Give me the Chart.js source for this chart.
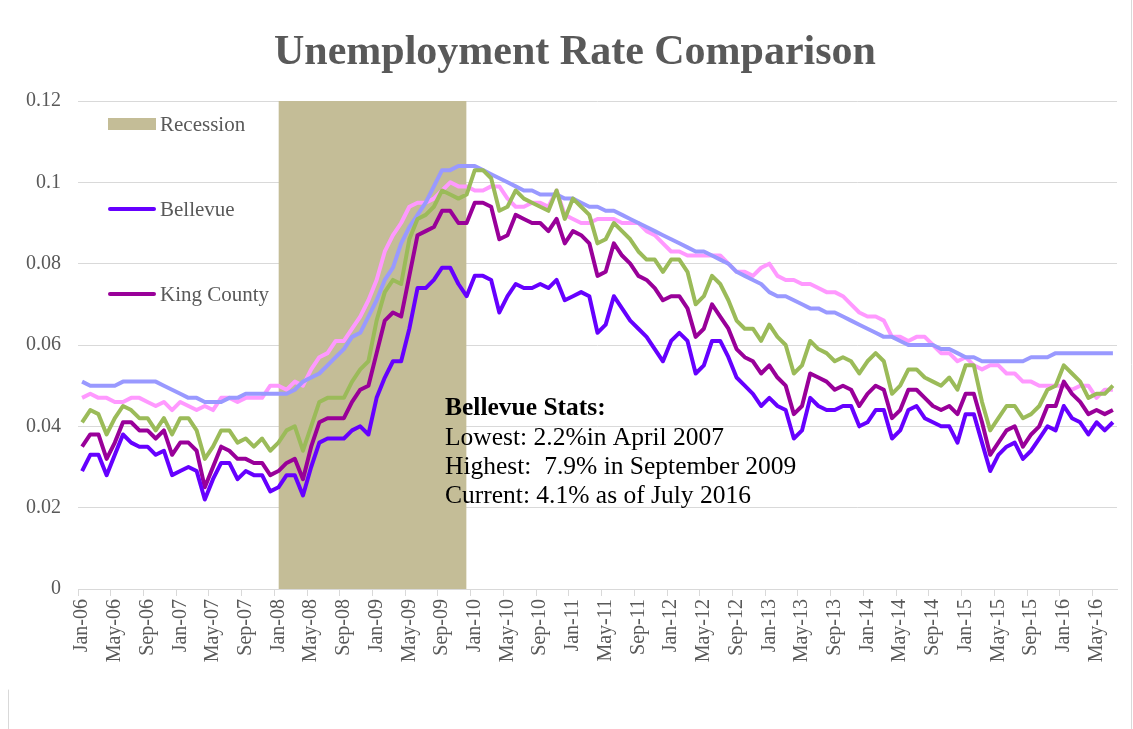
<!DOCTYPE html>
<html>
<head>
<meta charset="utf-8">
<title>Unemployment Rate Comparison</title>
<script src="https://cdn.jsdelivr.net/npm/chart.js@4.4.0/dist/chart.umd.min.js"></script>
<style>
    html, body { margin: 0; padding: 0; background: #ffffff; }
    #wrap { position: relative; width: 1133px; height: 729px; }
</style>
</head>
<body>
<div id="wrap"><canvas id="unemploymentChart" width="1133" height="729"></canvas></div>
<script>
// Monthly categories, Jan-06 .. Jul-16
const monthNames = ['Jan', 'Feb', 'Mar', 'Apr', 'May', 'Jun', 'Jul', 'Aug', 'Sep', 'Oct', 'Nov', 'Dec'];
const firstYear = 2006;
const monthCount = 127;

// Y axis ticks
const yTicks = [0, 0.02, 0.04, 0.06, 0.08, 0.1, 0.12];

// Recession band (first and last month covered)
const recessionStart = 'Jan-08';
const recessionEnd = 'Dec-09';
const recessionLevel = 0.12;

// Series values
const bellevue = [
    0.029, 0.033, 0.033, 0.028, 0.033, 0.038, 0.036, 0.035, 0.035, 0.033, 0.034, 0.028,
    0.029, 0.030, 0.029, 0.022, 0.027, 0.031, 0.031, 0.027, 0.029, 0.028, 0.028, 0.024,
    0.025, 0.028, 0.028, 0.023, 0.030, 0.036, 0.037, 0.037, 0.037, 0.039, 0.040, 0.038,
    0.047, 0.052, 0.056, 0.056, 0.064, 0.074, 0.074, 0.076, 0.079, 0.079, 0.075, 0.072,
    0.077, 0.077, 0.076, 0.068, 0.072, 0.075, 0.074, 0.074, 0.075, 0.074, 0.076, 0.071,
    0.072, 0.073, 0.072, 0.063, 0.065, 0.072, 0.069, 0.066, 0.064, 0.062, 0.059, 0.056,
    0.061, 0.063, 0.061, 0.053, 0.055, 0.061, 0.061, 0.057, 0.052, 0.050, 0.048, 0.045,
    0.047, 0.045, 0.044, 0.037, 0.039, 0.047, 0.045, 0.044, 0.044, 0.045, 0.045, 0.040,
    0.041, 0.044, 0.044, 0.037, 0.039, 0.044, 0.045, 0.042, 0.041, 0.040, 0.040, 0.036,
    0.043, 0.043, 0.036, 0.029, 0.033, 0.035, 0.036, 0.032, 0.034, 0.037, 0.040, 0.039,
    0.045, 0.042, 0.041, 0.038, 0.041, 0.039, 0.041
];

const kingCounty = [
    0.035, 0.038, 0.038, 0.032, 0.036, 0.041, 0.041, 0.039, 0.039, 0.037, 0.039, 0.033,
    0.036, 0.036, 0.034, 0.025, 0.030, 0.035, 0.034, 0.032, 0.032, 0.031, 0.031, 0.028,
    0.029, 0.031, 0.032, 0.027, 0.035, 0.041, 0.042, 0.042, 0.042, 0.046, 0.049, 0.050,
    0.058, 0.066, 0.068, 0.067, 0.077, 0.087, 0.088, 0.089, 0.093, 0.093, 0.090, 0.090,
    0.095, 0.095, 0.094, 0.086, 0.087, 0.092, 0.091, 0.090, 0.090, 0.088, 0.091, 0.085,
    0.088, 0.087, 0.085, 0.077, 0.078, 0.085, 0.082, 0.080, 0.077, 0.076, 0.074, 0.071,
    0.072, 0.072, 0.069, 0.062, 0.064, 0.070, 0.067, 0.064, 0.059, 0.057, 0.056, 0.053,
    0.055, 0.052, 0.050, 0.043, 0.045, 0.053, 0.052, 0.051, 0.049, 0.050, 0.049, 0.045,
    0.048, 0.050, 0.049, 0.042, 0.044, 0.049, 0.049, 0.047, 0.045, 0.044, 0.045, 0.043,
    0.048, 0.048, 0.041, 0.033, 0.036, 0.039, 0.040, 0.035, 0.038, 0.040, 0.045, 0.045,
    0.051, 0.048, 0.046, 0.043, 0.044, 0.043, 0.044
];

const washington = [
    0.041, 0.044, 0.043, 0.038, 0.042, 0.045, 0.044, 0.042, 0.042, 0.039, 0.042, 0.038,
    0.042, 0.042, 0.039, 0.032, 0.035, 0.039, 0.039, 0.036, 0.037, 0.035, 0.037, 0.034,
    0.036, 0.039, 0.040, 0.034, 0.040, 0.046, 0.047, 0.047, 0.047, 0.051, 0.054, 0.056,
    0.066, 0.073, 0.076, 0.075, 0.086, 0.091, 0.092, 0.094, 0.098, 0.097, 0.096, 0.097,
    0.103, 0.103, 0.101, 0.093, 0.094, 0.098, 0.096, 0.095, 0.094, 0.093, 0.098, 0.091,
    0.096, 0.094, 0.092, 0.085, 0.086, 0.090, 0.088, 0.086, 0.083, 0.081, 0.081, 0.078,
    0.081, 0.081, 0.078, 0.070, 0.072, 0.077, 0.075, 0.071, 0.066, 0.064, 0.064, 0.061,
    0.065, 0.062, 0.060, 0.053, 0.055, 0.061, 0.059, 0.058, 0.056, 0.057, 0.056, 0.053,
    0.056, 0.058, 0.056, 0.048, 0.050, 0.054, 0.054, 0.052, 0.051, 0.050, 0.052, 0.049,
    0.055, 0.055, 0.046, 0.039, 0.042, 0.045, 0.045, 0.042, 0.043, 0.045, 0.049, 0.050,
    0.055, 0.053, 0.051, 0.047, 0.048, 0.048, 0.050
];

const unitedStates = [
    0.051, 0.050, 0.050, 0.050, 0.050, 0.051, 0.051, 0.051, 0.051, 0.051, 0.050, 0.049,
    0.048, 0.047, 0.047, 0.046, 0.046, 0.046, 0.047, 0.047, 0.048, 0.048, 0.048, 0.048,
    0.048, 0.048, 0.049, 0.051, 0.052, 0.053, 0.055, 0.057, 0.059, 0.062, 0.063, 0.067,
    0.071, 0.076, 0.079, 0.085, 0.089, 0.092, 0.095, 0.099, 0.103, 0.103, 0.104, 0.104,
    0.104, 0.103, 0.102, 0.101, 0.100, 0.099, 0.098, 0.098, 0.097, 0.097, 0.097, 0.096,
    0.096, 0.095, 0.094, 0.094, 0.093, 0.093, 0.092, 0.091, 0.090, 0.089, 0.088, 0.087,
    0.086, 0.085, 0.084, 0.083, 0.083, 0.082, 0.081, 0.080, 0.078, 0.077, 0.076, 0.075,
    0.073, 0.072, 0.072, 0.071, 0.070, 0.069, 0.069, 0.068, 0.068, 0.067, 0.066, 0.065,
    0.064, 0.063, 0.062, 0.062, 0.061, 0.060, 0.060, 0.060, 0.060, 0.059, 0.059, 0.058,
    0.057, 0.057, 0.056, 0.056, 0.056, 0.056, 0.056, 0.056, 0.057, 0.057, 0.057, 0.058,
    0.058, 0.058, 0.058, 0.058, 0.058, 0.058, 0.058
];

const seattleArea = [
    0.047, 0.048, 0.047, 0.047, 0.046, 0.046, 0.047, 0.047, 0.046, 0.045, 0.046, 0.044,
    0.046, 0.045, 0.044, 0.045, 0.044, 0.047, 0.047, 0.046, 0.047, 0.047, 0.047, 0.050,
    0.050, 0.049, 0.051, 0.050, 0.054, 0.057, 0.058, 0.061, 0.061, 0.064, 0.067, 0.071,
    0.076, 0.083, 0.087, 0.090, 0.094, 0.095, 0.095, 0.096, 0.098, 0.100, 0.099, 0.099,
    0.098, 0.098, 0.099, 0.099, 0.096, 0.094, 0.094, 0.095, 0.095, 0.094, 0.098, 0.092,
    0.091, 0.090, 0.090, 0.091, 0.091, 0.091, 0.090, 0.090, 0.090, 0.088, 0.087, 0.085,
    0.083, 0.083, 0.082, 0.082, 0.082, 0.082, 0.082, 0.080, 0.078, 0.078, 0.077, 0.079,
    0.080, 0.077, 0.076, 0.076, 0.075, 0.075, 0.074, 0.073, 0.073, 0.072, 0.070, 0.068,
    0.067, 0.067, 0.066, 0.062, 0.062, 0.061, 0.062, 0.062, 0.060, 0.058, 0.058, 0.056,
    0.057, 0.055, 0.054, 0.055, 0.055, 0.053, 0.053, 0.051, 0.051, 0.050, 0.050, 0.050,
    0.050, 0.049, 0.050, 0.050, 0.047, 0.049, 0.049
];

const chartTitle = 'Unemployment Rate Comparison';
const statsHeading = 'Bellevue Stats:';
const statsLines = [
    'Lowest: 2.2%in April 2007',
    'Highest:  7.9% in September 2009',
    'Current: 4.1% as of July 2016'
];

document.addEventListener('DOMContentLoaded', function() {
    const serif = '"Liberation Serif", "Times New Roman", serif';
    const grey = '#595959';
    const gridGrey = '#d9d9d9';

    // Build month labels
    const labels = [];
    for (let i = 0; i < monthCount; i++) {
        const yy = String((firstYear + Math.floor(i / 12)) % 100).padStart(2, '0');
        labels.push(monthNames[i % 12] + '-' + yy);
    }

    // Recession band values
    const startIdx = labels.indexOf(recessionStart);
    const endIdx = labels.indexOf(recessionEnd);
    const recession = labels.map((_, i) => (i >= startIdx && i <= endIdx) ? recessionLevel : null);

    const legendItems = [
        { text: 'Recession', color: '#c4bd97', box: true, y: 124 },
        { text: 'Bellevue', color: '#6600ff', box: false, y: 209 },
        { text: 'King County', color: '#990099', box: false, y: 294 }
    ];

    // Title, legend, stats box
    const overlayPlugin = {
        id: 'overlay',
        afterDraw(chart) {
            const ctx = chart.ctx;
            ctx.save();

            ctx.fillStyle = grey;
            ctx.font = 'bold 42px ' + serif;
            ctx.textAlign = 'center';
            ctx.textBaseline = 'alphabetic';
            ctx.fillText(chartTitle, 575, 64);

            // Legend
            ctx.textAlign = 'left';
            ctx.font = '21px ' + serif;
            legendItems.forEach(item => {
                if (item.box) {
                    ctx.fillStyle = item.color;
                    ctx.fillRect(108, item.y - 6, 48, 12);
                } else {
                    ctx.strokeStyle = item.color;
                    ctx.lineWidth = 4;
                    ctx.lineCap = 'round';
                    ctx.beginPath();
                    ctx.moveTo(110, item.y);
                    ctx.lineTo(154, item.y);
                    ctx.stroke();
                }
                ctx.fillStyle = grey;
                ctx.fillText(item.text, 160, item.y + 7);
            });

            // Stats text box
            ctx.fillStyle = '#000000';
            ctx.font = 'bold 25.5px ' + serif;
            ctx.fillText(statsHeading, 445, 415);
            ctx.font = '25.5px ' + serif;
            statsLines.forEach((line, i) => {
                ctx.fillText(line, 445, 445 + i * 29);
            });

            // Chart frame edges
            ctx.strokeStyle = gridGrey;
            ctx.lineWidth = 1;
            ctx.beginPath();
            ctx.moveTo(1131.5, 0);
            ctx.lineTo(1131.5, 729);
            ctx.moveTo(8.5, 690);
            ctx.lineTo(8.5, 729);
            ctx.stroke();

            ctx.restore();
        }
    };

    const lineStyle = (label, data, color) => ({
        type: 'line',
        label: label,
        data: data,
        borderColor: color,
        backgroundColor: color,
        borderWidth: 4,
        pointRadius: 0,
        tension: 0,
        fill: false,
        borderJoinStyle: 'round',
        order: 0
    });

    const ctxEl = document.getElementById('unemploymentChart');
    new Chart(ctxEl, {
        type: 'line',
        data: {
            labels: labels,
            datasets: [
                lineStyle('Bellevue', bellevue, '#6600ff'),
                lineStyle('King County', kingCounty, '#990099'),
                lineStyle('Washington', washington, '#9bbb59'),
                lineStyle('United States', unitedStates, '#9999ff'),
                lineStyle('Seattle', seattleArea, '#ff99ff'),
                {
                    type: 'line',
                    label: 'Recession',
                    data: recession,
                    borderWidth: 0,
                    borderColor: 'rgba(0,0,0,0)',
                    backgroundColor: '#c4bd97',
                    pointRadius: 0,
                    fill: 'origin',
                    spanGaps: false,
                    order: 5
                }
            ]
        },
        options: {
            responsive: false,
            animation: false,
            layout: {
                padding: { top: 101, right: 16, left: 0, bottom: 0 }
            },
            plugins: {
                legend: { display: false },
                title: { display: false },
                tooltip: { enabled: false }
            },
            scales: {
                x: {
                    offset: true,
                    afterFit: scale => {
                        scale.height = 140;
                        // keep rotated labels from shrinking the plot width
                        scale.paddingLeft = 0;
                        scale.paddingRight = 0;
                    },
                    border: { display: true, color: gridGrey, width: 1 },
                    grid: {
                        offset: true,
                        drawOnChartArea: false,
                        drawTicks: true,
                        tickLength: 7,
                        color: c => (c.index % 4 === 0 ? gridGrey : 'rgba(0,0,0,0)')
                    },
                    ticks: {
                        autoSkip: false,
                        maxRotation: 90,
                        minRotation: 90,
                        padding: 3,
                        color: grey,
                        font: { family: serif, size: 20 },
                        callback: function(value, index) {
                            return index % 4 === 0 ? this.getLabelForValue(value) : '';
                        }
                    }
                },
                y: {
                    min: 0,
                    max: 0.12,
                    afterFit: scale => { scale.width = 78; },
                    afterBuildTicks: scale => {
                        scale.ticks = yTicks.map(v => ({ value: v }));
                    },
                    border: { display: false },
                    grid: {
                        color: gridGrey,
                        lineWidth: 1,
                        drawTicks: false
                    },
                    ticks: {
                        padding: 17,
                        color: grey,
                        font: { family: serif, size: 20 },
                        callback: v => String(+v.toFixed(2))
                    }
                }
            }
        },
        plugins: [overlayPlugin]
    });
});
</script>
</body>
</html>
